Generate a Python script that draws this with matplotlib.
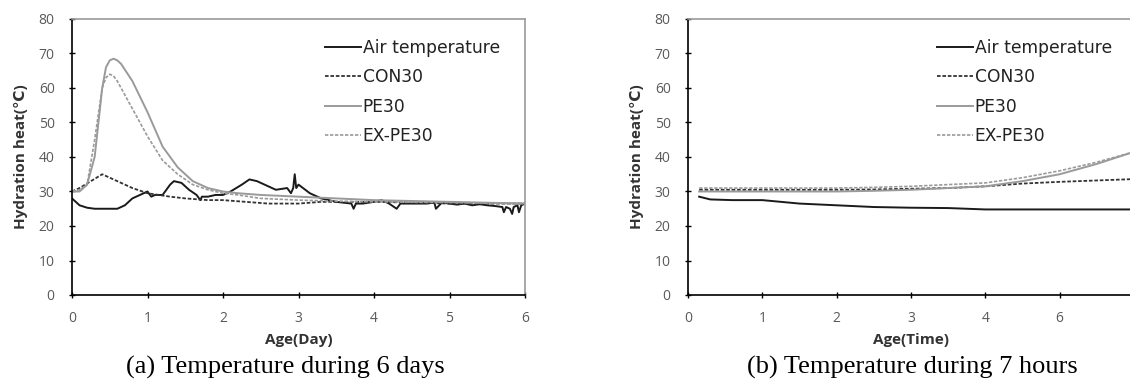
import numpy as np
import matplotlib.pyplot as plt

# (a) 6 days
day = [0.0, 0.1, 0.2, 0.3, 0.4, 0.45, 0.5, 0.55, 0.6, 0.65, 0.8, 1.0, 1.2, 1.4,
       1.6, 1.8, 2.0, 2.2, 2.5, 3.0, 3.5, 4.0, 5.0, 6.0]
pe30_a = [30, 30, 32, 40, 60, 66, 68, 68.5, 68, 67, 62, 53, 43, 37,
          33, 31, 30, 29.5, 29, 28.5, 28, 27.5, 27, 26.5]
expe30_a = [30, 30.5, 32, 45, 60, 63, 64, 63.5, 62, 60, 54, 46, 39, 35,
            32, 30.5, 29.5, 29, 28, 27.5, 27.2, 27, 26.8, 26.5]

day_con = [0.0, 0.1, 0.25, 0.4, 0.6, 0.8, 1.0, 1.3, 1.5, 1.8, 2.0, 2.3, 2.6,
           3.0, 3.3, 3.7, 4.0, 4.5, 5.0, 5.5, 6.0]
con30_a = [30, 31, 33, 35, 33, 31, 29.5, 28.5, 28, 27.5, 27.5, 27, 26.5,
           26.5, 27, 27, 27, 26.8, 26.5, 26.5, 26.5]

day_air = [0.0, 0.05, 0.1, 0.2, 0.3, 0.45, 0.6, 0.7, 0.8, 0.9, 0.95, 1.0, 1.05,
           1.1, 1.2, 1.3, 1.35, 1.45, 1.55, 1.65, 1.7, 1.72, 1.8, 1.9, 2.0,
           2.1, 2.25, 2.35, 2.45, 2.6, 2.7, 2.85, 2.9, 2.93, 2.95, 2.97, 3.0,
           3.15, 3.3, 3.5, 3.7, 3.73, 3.76, 3.85, 4.0, 4.1, 4.2, 4.3, 4.35,
           4.5, 4.7, 4.8, 4.82, 4.9, 5.0, 5.1, 5.2, 5.3, 5.4, 5.5, 5.6, 5.7,
           5.72, 5.75, 5.8, 5.83, 5.85, 5.9, 5.92, 5.95, 6.0]
air_a = [28, 27, 26, 25.3, 25, 25, 25, 26, 28, 29, 29.5, 30, 28.5,
         29, 29, 32, 33, 32.5, 30.5, 29, 27.5, 28.5, 28.5, 29, 29,
         30, 32, 33.5, 33, 31.5, 30.5, 31, 29.5, 31, 35, 31, 32,
         29.5, 28, 27, 26.5, 25, 26.5, 26.5, 27, 27.5, 26.5, 25, 26.5,
         26.5, 26.5, 26.8, 25, 26.8, 26.5, 26.2, 26.5, 26, 26.3, 26, 25.8, 25.5,
         24, 25.5, 25, 23.5, 25.5, 26, 24, 26, 26.5]

# (b) 7 hours
hour = [0.15, 0.3, 0.6, 1.0, 1.5, 2.0, 2.5, 3.0, 3.5, 4.0, 4.5, 5.0, 5.5, 6.0]
air_b = [28.5, 27.7, 27.5, 27.5, 26.5, 26, 25.5, 25.3, 25.2, 24.8, 24.8, 24.8, 24.8, 24.8]
con30_b = [30.5, 30.5, 30.5, 30.5, 30.5, 30.5, 30.6, 30.8, 31, 31.5, 32.3, 32.8, 33.2, 33.6]
pe30_b = [30, 30, 30, 30, 30, 30, 30.2, 30.5, 31, 31.5, 33, 35, 38, 41.5]
expe30_b = [31, 31, 31, 31, 31, 31, 31.2, 31.5, 32, 32.5, 34, 36, 38.5, 41.5]
hour_ticks = [0, 1, 2, 3, 4, 5]
hour_labels = ['0', '1', '2', '3', '4', '6']

W, H = 1130, 383
fig = plt.figure(figsize=(W / 100, H / 100), dpi=100)
fam = ['Open Sans', 'DejaVu Sans']


def style(ax, xlabel, leg_x):
    ax.set_ylim(0, 80)
    ax.set_yticks(range(0, 81, 10))
    for s in ['top', 'right']:
        ax.spines[s].set_color('#9a9a9a')
        ax.spines[s].set_linewidth(1.2)
    for s in ['left', 'bottom']:
        ax.spines[s].set_color('black')
        ax.spines[s].set_linewidth(1.2)
    ax.tick_params(direction='inout', length=5, width=1, colors='black',
                   labelcolor='#5a5a5a', labelsize=10)
    ax.tick_params(axis='x', pad=9)
    ax.tick_params(axis='y', pad=10)
    for lab in ax.get_xticklabels() + ax.get_yticklabels():
        lab.set_fontfamily(fam)
    ax.set_xlabel(xlabel, fontsize=11, fontweight='bold', family=fam,
                  color='#333333', labelpad=5)
    ax.set_ylabel('Hydration heat(\u2103)', fontsize=11, fontweight='bold',
                  family=fam, color='#333333', labelpad=8)
    leg = ax.legend(loc='upper left', bbox_to_anchor=(leg_x / W, 1 - 39 / H),
                    bbox_transform=fig.transFigure, frameon=False,
                    borderpad=0, borderaxespad=0, handlelength=2.1,
                    handletextpad=0.1, labelspacing=0.66,
                    prop={'family': 'DejaVu Sans', 'size': 12.3})
    for t in leg.get_texts():
        t.set_color('#222222')


ax1 = fig.add_axes([72 / W, (H - 295) / H, (525 - 72) / W, 276 / H])
ax1.plot(day_air, air_a, color='#1a1a1a', lw=1.4, label='Air temperature')
ax1.plot(day_con, con30_a, color='#333333', lw=1.3, ls=(0, (2, 1)), label='CON30')
ax1.plot(day, pe30_a, color='#9a9a9a', lw=1.4, label='PE30')
ax1.plot(day, expe30_a, color='#9a9a9a', lw=1.2, ls=(0, (2, 1)), label='EX-PE30')
ax1.set_xlim(0, 6)
ax1.set_xticks(range(0, 7))
style(ax1, 'Age(Day)', 325)

ax2 = fig.add_axes([688 / W, (H - 295) / H, (1134 - 688) / W, 276 / H])
ax2.plot(hour, air_b, color='#1a1a1a', lw=1.4, label='Air temperature')
ax2.plot(hour, con30_b, color='#333333', lw=1.3, ls=(0, (2, 1)), label='CON30')
ax2.plot(hour, pe30_b, color='#9a9a9a', lw=1.4, label='PE30')
ax2.plot(hour, expe30_b, color='#9a9a9a', lw=1.2, ls=(0, (2, 1)), label='EX-PE30')
ax2.set_xlim(0, 6)
ax2.set_xticks(hour_ticks)
ax2.set_xticklabels(hour_labels)
style(ax2, 'Age(Time)', 937)

fig.text(285 / W, 16 / H, '(a) Temperature during 6 days', ha='center', va='center',
         family='Liberation Serif', fontsize=19)
fig.text(912 / W, 16 / H, '(b) Temperature during 7 hours', ha='center', va='center',
         family='Liberation Serif', fontsize=19)

fig.savefig('out.png', dpi=100)
